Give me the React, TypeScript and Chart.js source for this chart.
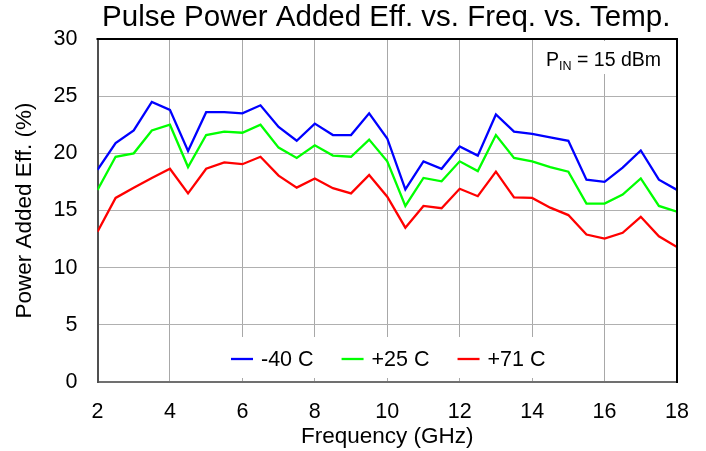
import { useEffect, useRef } from "react";
import { Chart, registerables } from "chart.js";

Chart.register(...registerables);

const FONT = "'Liberation Sans', Arial, Helvetica, sans-serif";

const FREQ_GHZ = [2, 2.5, 3, 3.5, 4, 4.5, 5, 5.5, 6, 6.5, 7, 7.5, 8, 8.5, 9, 9.5, 10, 10.5, 11, 11.5, 12, 12.5, 13, 13.5, 14, 14.5, 15, 15.5, 16, 16.5, 17, 17.5, 18];

const PAE_M40 = [18.55, 20.9, 22.0, 24.5, 23.8, 20.2, 23.6, 23.6, 23.5, 24.2, 22.3, 21.1, 22.6, 21.6, 21.6, 23.5, 21.3, 16.85, 19.3, 18.65, 20.6, 19.8, 23.4, 21.9, 21.7, 21.4, 21.1, 17.7, 17.5, 18.75, 20.25, 17.7, 16.8];
const PAE_P25 = [16.8, 19.7, 20.0, 22.0, 22.5, 18.8, 21.6, 21.9, 21.8, 22.5, 20.5, 19.6, 20.7, 19.8, 19.7, 21.2, 19.3, 15.4, 17.85, 17.55, 19.3, 18.45, 21.6, 19.6, 19.3, 18.8, 18.4, 15.6, 15.6, 16.4, 17.8, 15.4, 14.9];
const PAE_P71 = [13.15, 16.1, 17.0, 17.85, 18.65, 16.5, 18.65, 19.2, 19.05, 19.7, 18.05, 17.0, 17.8, 16.95, 16.5, 18.1, 16.2, 13.5, 15.4, 15.2, 16.9, 16.25, 18.4, 16.15, 16.1, 15.25, 14.6, 12.9, 12.55, 13.05, 14.45, 12.75, 11.8];

const SERIES_LABELS = ["-40 C", "+25 C", "+71 C"];
const SERIES_COLORS = ["#0000FF", "#00FF00", "#FF0000"];

const TITLE = "Pulse Power Added Eff. vs. Freq. vs. Temp.";
const X_TITLE = "Frequency (GHz)";
const Y_TITLE = "Power Added Eff. (%)";
const X_MIN = 2, X_MAX = 18, X_STEP = 2;
const Y_MIN = 0, Y_MAX = 30, Y_STEP = 5;
const NOTE_MAIN = "P";
const NOTE_SUB = "IN";
const NOTE_REST = " = 15 dBm";

const decorPlugin = {
  id: "decor",
  afterDatasetsDraw(chart: any) {
    const { ctx, chartArea } = chart;
    const { left, right, top, bottom } = chartArea;
    ctx.save();
    // Title
    ctx.fillStyle = "#000";
    ctx.font = `29.5px ${FONT}`;
    ctx.textAlign = "center";
    ctx.textBaseline = "middle";
    ctx.fillText(TITLE, (left + right) / 2 - 1, 18);

    // Legend inside plot
    ctx.font = `21.5px ${FONT}`;
    const sw = 22, gapT = 8, gapI = 28;
    const widths = SERIES_LABELS.map((l) => ctx.measureText(l).width);
    const total = widths.reduce((a, w) => a + sw + gapT + w, 0) + gapI * (SERIES_LABELS.length - 1);
    let x = (left + right) / 2 + 1 - total / 2;
    const ly = bottom - 23;
    ctx.fillStyle = "#fff";
    ctx.fillRect(x - 14, bottom - 45, total + 28, 41);
    ctx.textAlign = "left";
    ctx.textBaseline = "middle";
    chart.data.datasets.forEach((ds: any, i: number) => {
      ctx.strokeStyle = ds.borderColor;
      ctx.lineWidth = 2.3;
      ctx.beginPath();
      ctx.moveTo(x, ly);
      ctx.lineTo(x + sw, ly);
      ctx.stroke();
      ctx.fillStyle = "#000";
      ctx.fillText(ds.label, x + sw + gapT, ly + 1);
      x += sw + gapT + widths[i] + gapI;
    });

    // P_IN annotation
    ctx.fillStyle = "#fff";
    ctx.fillRect(right - 142, top + 2, 140, 33);
    const mf = `19.5px ${FONT}`;
    const sf = `12.5px ${FONT}`;
    ctx.font = mf;
    const wP = ctx.measureText(NOTE_MAIN).width;
    const wR = ctx.measureText(NOTE_REST).width;
    ctx.font = sf;
    const wS = ctx.measureText(NOTE_SUB).width;
    let nx = right - 16 - (wP + wS + wR);
    const base = top + 27;
    ctx.fillStyle = "#000";
    ctx.textBaseline = "alphabetic";
    ctx.font = mf;
    ctx.fillText(NOTE_MAIN, nx, base);
    nx += wP;
    ctx.font = sf;
    ctx.fillText(NOTE_SUB, nx, base + 4);
    nx += wS;
    ctx.font = mf;
    ctx.fillText(NOTE_REST, nx, base);
    ctx.restore();
  },
  afterDraw(chart: any) {
    const { ctx, chartArea } = chart;
    const { left, right, top, bottom } = chartArea;
    ctx.save();
    ctx.strokeStyle = "#000";
    ctx.lineWidth = 2;
    ctx.beginPath();
    ctx.moveTo(left - 1, top);
    ctx.lineTo(right, top);
    ctx.lineTo(right, bottom + 1);
    ctx.stroke();
    ctx.restore();
  },
};

export default function App() {
  const ref = useRef<HTMLCanvasElement | null>(null);
  useEffect(() => {
    document.body.style.margin = "0";
    const canvas = ref.current!;
    const series = [PAE_M40, PAE_P25, PAE_P71];
    const chart = new Chart(canvas, {
      type: "line",
      data: {
        datasets: series.map((vals, i) => ({
          label: SERIES_LABELS[i],
          data: FREQ_GHZ.map((f, j) => ({ x: f, y: vals[j] })),
          borderColor: SERIES_COLORS[i],
          backgroundColor: SERIES_COLORS[i],
          borderWidth: 2.3,
          pointRadius: 0,
          tension: 0,
          fill: false,
        })),
      },
      options: {
        animation: false,
        responsive: false,
        devicePixelRatio: 1,
        layout: { padding: { top: 39, right: 29, left: 0, bottom: 0 } },
        plugins: {
          legend: { display: false },
          title: { display: false },
          tooltip: { enabled: false },
        },
        scales: {
          x: {
            type: "linear",
            min: X_MIN,
            max: X_MAX,
            afterFit: (s: any) => { s.height = 69; },
            ticks: { stepSize: X_STEP, color: "#000", font: { family: FONT, size: 21.5 }, padding: 17, maxRotation: 0 },
            grid: { color: "#A8A8A8", lineWidth: 1, drawTicks: false },
            border: { color: "#707070", width: 2 },
            title: { display: true, text: X_TITLE, color: "#000", font: { family: FONT, size: 22.5 }, padding: { top: 0, bottom: 1 } },
          },
          y: {
            min: Y_MIN,
            max: Y_MAX,
            afterFit: (s: any) => { s.width = 97.5; },
            ticks: { stepSize: Y_STEP, color: "#000", font: { family: FONT, size: 21.5 }, padding: 20 },
            grid: { color: "#B0B0B0", lineWidth: 1, drawTicks: false },
            border: { color: "#505050", width: 2 },
            title: { display: true, text: Y_TITLE, color: "#000", font: { family: FONT, size: 22.5 }, padding: { top: 11, bottom: 0 } },
          },
        },
      },
      plugins: [decorPlugin],
    } as any);
    return () => chart.destroy();
  }, []);
  return <canvas ref={ref} width={706} height={451} style={{ display: "block" }} />;
}
